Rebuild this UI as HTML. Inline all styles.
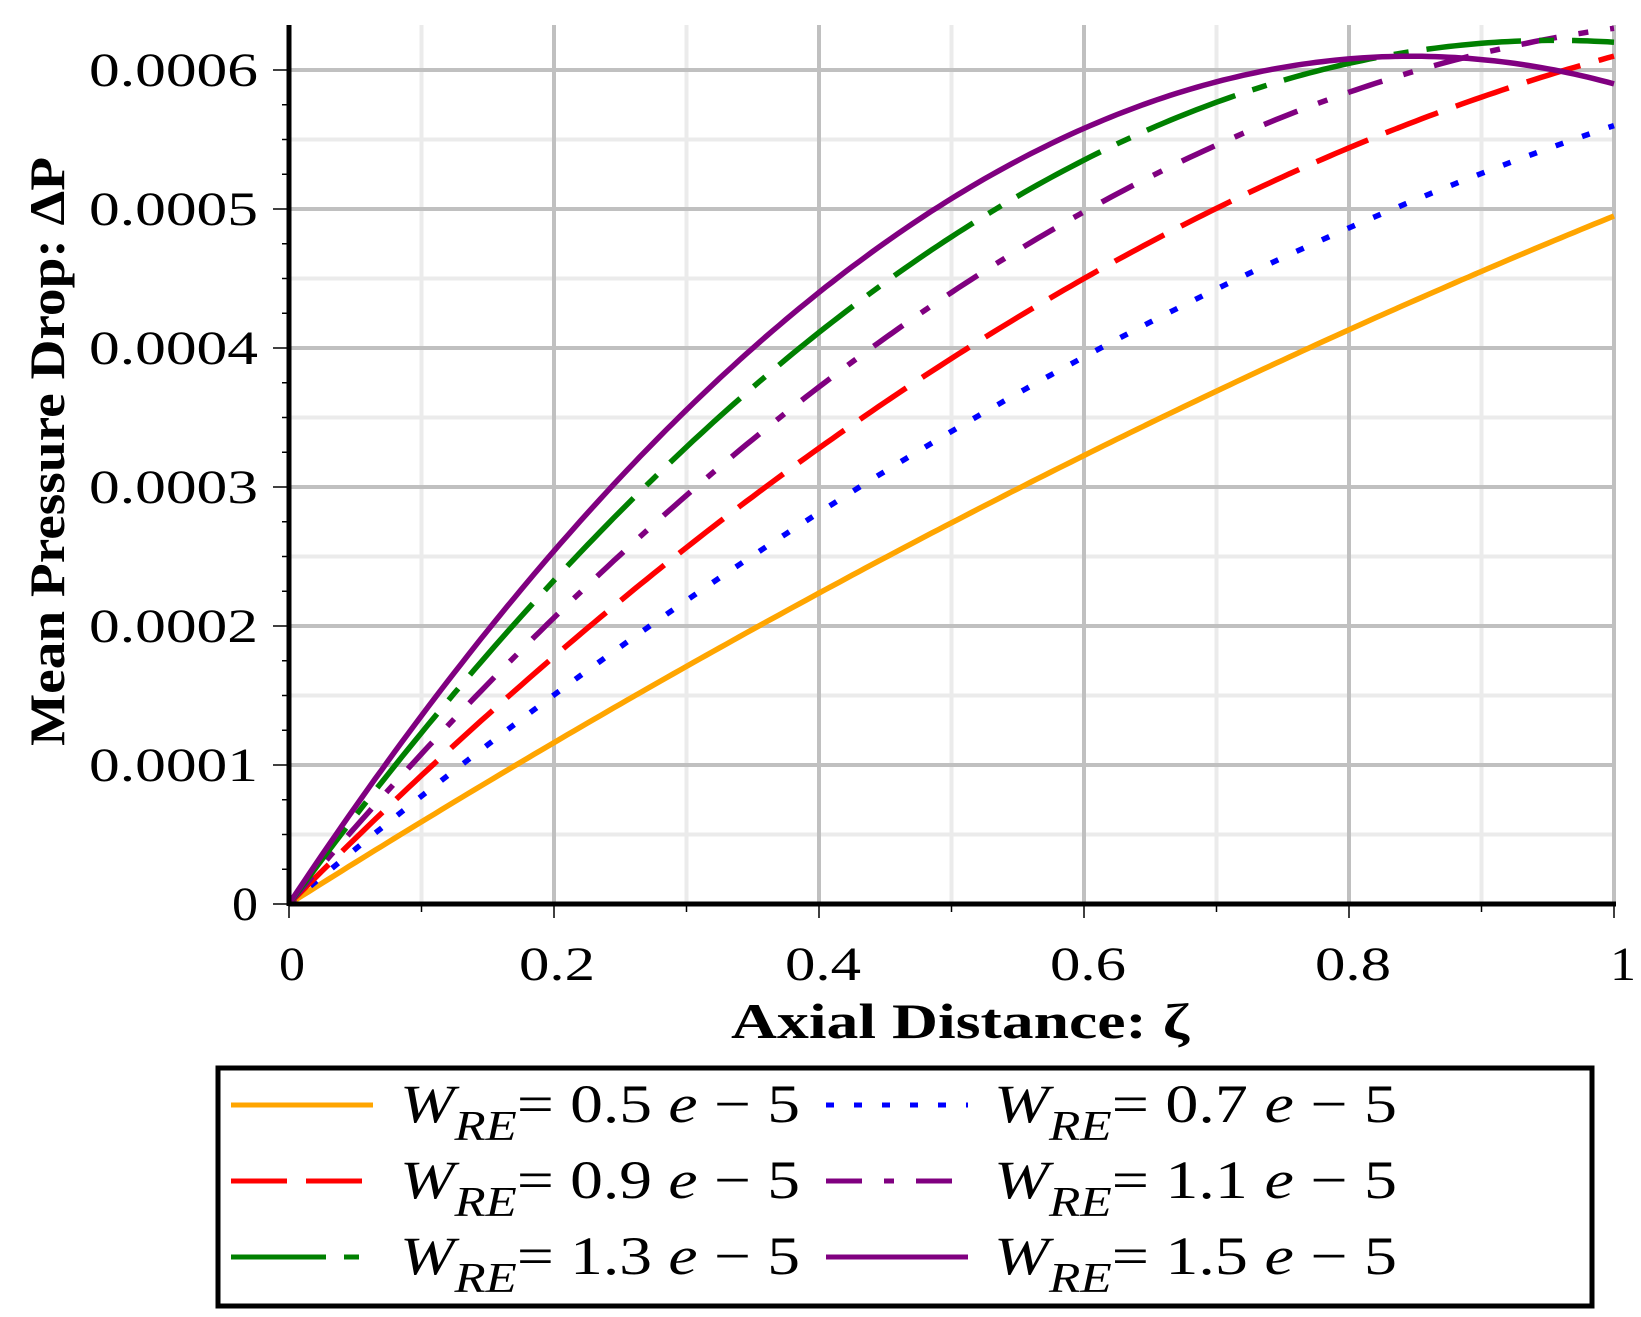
<!DOCTYPE html>
<html><head><meta charset="utf-8"><style>
html,body{margin:0;padding:0;background:#fff}
svg{display:block}
text{font-family:"Liberation Serif",serif}
</style></head><body>
<svg id="s" width="1641" height="1317" viewBox="0 0 1641 1317" xmlns="http://www.w3.org/2000/svg">
<g id="grid"></g>
<g id="curves" fill="none" stroke-width="5.5"></g>
<line x1="289" y1="904" x2="1616" y2="904" stroke="#000" stroke-width="5"/>
<line x1="289" y1="25" x2="289" y2="906" stroke="#000" stroke-width="5"/>
<g id="ticks" stroke="#000" stroke-width="1.5"></g>
<g font-size="48" lengthAdjust="spacingAndGlyphs">
<text x="232" y="920" textLength="26" lengthAdjust="spacingAndGlyphs">0</text>
<text x="89" y="781" textLength="169" lengthAdjust="spacingAndGlyphs">0.0001</text>
<text x="89" y="642" textLength="169" lengthAdjust="spacingAndGlyphs">0.0002</text>
<text x="89" y="503" textLength="169" lengthAdjust="spacingAndGlyphs">0.0003</text>
<text x="89" y="364" textLength="169" lengthAdjust="spacingAndGlyphs">0.0004</text>
<text x="89" y="225" textLength="169" lengthAdjust="spacingAndGlyphs">0.0005</text>
<text x="89" y="86" textLength="169" lengthAdjust="spacingAndGlyphs">0.0006</text>
</g>
<g font-size="48">
<text x="279" y="980" textLength="26" lengthAdjust="spacingAndGlyphs">0</text>
<text x="519" y="980" textLength="76" lengthAdjust="spacingAndGlyphs">0.2</text>
<text x="785" y="980" textLength="76" lengthAdjust="spacingAndGlyphs">0.4</text>
<text x="1050" y="980" textLength="76" lengthAdjust="spacingAndGlyphs">0.6</text>
<text x="1315" y="980" textLength="76" lengthAdjust="spacingAndGlyphs">0.8</text>
<text x="1610" y="980" textLength="26" lengthAdjust="spacingAndGlyphs">1</text>
</g>
<text x="731" y="1038" font-size="50" font-weight="bold" textLength="458" lengthAdjust="spacingAndGlyphs">Axial Distance: ζ</text>
<text transform="translate(64,452) rotate(-90)" x="-294" y="0" font-size="50" font-weight="bold" textLength="589" lengthAdjust="spacingAndGlyphs">Mean Pressure Drop: ΔP</text>
<rect x="218" y="1068" width="1374" height="238" fill="none" stroke="#000" stroke-width="5"/>
<g stroke-width="5">
<line x1="231" y1="1105" x2="373" y2="1105" stroke="#ffa500"/>
<line x1="231" y1="1181" x2="373" y2="1181" stroke="#ff0000" stroke-dasharray="56 19"/>
<line x1="231" y1="1257" x2="373" y2="1257" stroke="#008000" stroke-dasharray="95 18 15 18"/>
<line x1="826" y1="1105" x2="968" y2="1105" stroke="#0000ff" stroke-dasharray="8 20"/>
<line x1="826" y1="1181" x2="968" y2="1181" stroke="#800080" stroke-dasharray="36 22 10 22"/>
<line x1="826" y1="1257" x2="968" y2="1257" stroke="#800080"/>
</g>
<g font-size="54">
<text x="400" y="1122" textLength="400" lengthAdjust="spacingAndGlyphs"><tspan font-style="italic">W</tspan><tspan font-style="italic" font-size="42" dy="18">RE</tspan><tspan dy="-18">= 0.5 </tspan><tspan font-style="italic">e</tspan> − 5</text>
<text x="400" y="1198" textLength="400" lengthAdjust="spacingAndGlyphs"><tspan font-style="italic">W</tspan><tspan font-style="italic" font-size="42" dy="18">RE</tspan><tspan dy="-18">= 0.9 </tspan><tspan font-style="italic">e</tspan> − 5</text>
<text x="400" y="1274" textLength="400" lengthAdjust="spacingAndGlyphs"><tspan font-style="italic">W</tspan><tspan font-style="italic" font-size="42" dy="18">RE</tspan><tspan dy="-18">= 1.3 </tspan><tspan font-style="italic">e</tspan> − 5</text>
<text x="994" y="1122" textLength="403" lengthAdjust="spacingAndGlyphs"><tspan font-style="italic">W</tspan><tspan font-style="italic" font-size="42" dy="18">RE</tspan><tspan dy="-18">= 0.7 </tspan><tspan font-style="italic">e</tspan> − 5</text>
<text x="994" y="1198" textLength="403" lengthAdjust="spacingAndGlyphs"><tspan font-style="italic">W</tspan><tspan font-style="italic" font-size="42" dy="18">RE</tspan><tspan dy="-18">= 1.1 </tspan><tspan font-style="italic">e</tspan> − 5</text>
<text x="994" y="1274" textLength="403" lengthAdjust="spacingAndGlyphs"><tspan font-style="italic">W</tspan><tspan font-style="italic" font-size="42" dy="18">RE</tspan><tspan dy="-18">= 1.5 </tspan><tspan font-style="italic">e</tspan> − 5</text>
</g>
</svg>
<script>
(function(){
var NS="http://www.w3.org/2000/svg";
function X(v){return 289+v*1325;}
function Y(v){return 904-v*1390000;}
function el(p,tag,a){var e=document.createElementNS(NS,tag);for(var k in a)e.setAttribute(k,a[k]);p.appendChild(e);return e;}
var g=document.getElementById('grid');
for(var i=1;i<=10;i++){var x=X(i/10);if(i%2)el(g,'line',{x1:x,y1:25,x2:x,y2:904,stroke:'#ebebeb','stroke-width':4});}
for(var j=1;j<=12;j++){var y=Y(j*0.00005);if(j%2)el(g,'line',{x1:289,y1:y,x2:1614,y2:y,stroke:'#ebebeb','stroke-width':4});}
for(var i=2;i<=10;i+=2){var x=X(i/10);el(g,'line',{x1:x,y1:25,x2:x,y2:904,stroke:'#c0c0c0','stroke-width':4});}
for(var j=2;j<=12;j+=2){var y=Y(j*0.00005);el(g,'line',{x1:289,y1:y,x2:1614,y2:y,stroke:'#c0c0c0','stroke-width':4});}
var t=document.getElementById('ticks');
for(var i=0;i<=10;i++){var x=X(i/10);el(t,'line',{x1:x,y1:904,x2:x,y2:i%2?912:918});}
for(var j=0;j<=24;j++){var y=Y(j*0.000025);el(t,'line',{x1:289,y1:y,x2:j%4?282:273,y2:y});}
var series=[
['#ffa500',0.000602,0.000107,null],
['#0000ff',0.00080,0.00024,'8 20'],
['#ff0000',0.00096,0.00035,'56 19'],
['#800080',0.00113,0.0005,'36 22 10 22'],
['#008000',0.00130,0.00068,'95 18 15 18'],
['#800080',0.00144,0.00085,null]];
var c=document.getElementById('curves');
series.forEach(function(s){
var d='';for(var k=0;k<=200;k++){var z=k/200;var v=s[1]*z-s[2]*z*z;d+=(k?'L':'M')+X(z).toFixed(1)+' '+Y(v).toFixed(1);}
var a={d:d,stroke:s[0]};if(s[3])a['stroke-dasharray']=s[3];el(c,'path',a);
});
})();
</script>
</body></html>
